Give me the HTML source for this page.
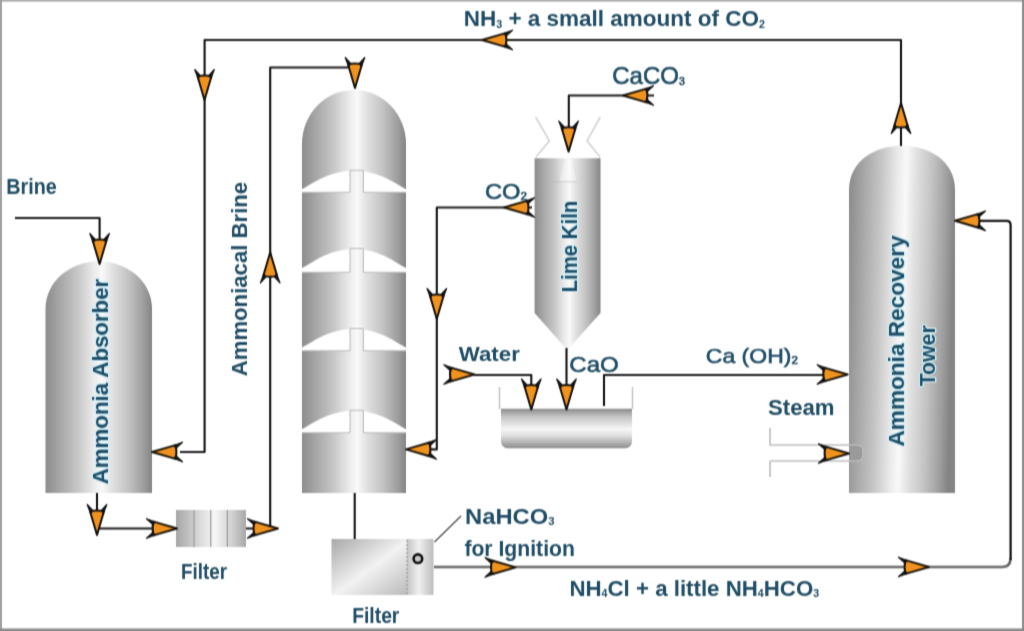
<!DOCTYPE html>
<html><head><meta charset="utf-8"><style>
html,body{margin:0;padding:0;background:#fff;}
body{width:1024px;height:631px;overflow:hidden;}
svg{display:block;}
text{font-family:"Liberation Sans",sans-serif;font-weight:bold;fill:#1f4c64;}
text.halo{stroke:#d2eef6;stroke-width:2.6px;paint-order:stroke;stroke-linejoin:round;fill:#1d4d66;}
</style></head><body>
<svg width="1024" height="631" viewBox="0 0 1024 631">
<defs>
<filter id="soft" color-interpolation-filters="sRGB" x="0" y="0" width="1024" height="631" filterUnits="userSpaceOnUse"><feConvolveMatrix order="3" kernelMatrix="0.025 0.2 0.025 0.05 0.4 0.05 0.025 0.2 0.025" divisor="1" edgeMode="duplicate"/></filter>
<linearGradient id="cyl" x1="0" y1="0" x2="1" y2="0">
<stop offset="0" stop-color="#8c8c8c"/>
<stop offset="0.12" stop-color="#a4a4a4"/>
<stop offset="0.3" stop-color="#c6c6c6"/>
<stop offset="0.45" stop-color="#eaeaea"/>
<stop offset="0.53" stop-color="#f9f9f9"/>
<stop offset="0.62" stop-color="#e2e2e2"/>
<stop offset="0.78" stop-color="#c2c2c2"/>
<stop offset="0.92" stop-color="#9e9e9e"/>
<stop offset="1" stop-color="#848484"/>
</linearGradient>
<linearGradient id="cylT" gradientUnits="userSpaceOnUse" x1="302" y1="0" x2="406" y2="0">
<stop offset="0" stop-color="#8c8c8c"/>
<stop offset="0.12" stop-color="#a4a4a4"/>
<stop offset="0.3" stop-color="#c6c6c6"/>
<stop offset="0.45" stop-color="#eaeaea"/>
<stop offset="0.53" stop-color="#f9f9f9"/>
<stop offset="0.62" stop-color="#e2e2e2"/>
<stop offset="0.78" stop-color="#c2c2c2"/>
<stop offset="0.92" stop-color="#9e9e9e"/>
<stop offset="1" stop-color="#848484"/>
</linearGradient>
<linearGradient id="cylR" gradientUnits="userSpaceOnUse" x1="846" y1="0" x2="952" y2="0" gradientTransform="rotate(1.5 902 320)">
<stop offset="0" stop-color="#8c8c8c"/>
<stop offset="0.12" stop-color="#a4a4a4"/>
<stop offset="0.3" stop-color="#c6c6c6"/>
<stop offset="0.45" stop-color="#eaeaea"/>
<stop offset="0.53" stop-color="#f9f9f9"/>
<stop offset="0.62" stop-color="#e2e2e2"/>
<stop offset="0.78" stop-color="#c2c2c2"/>
<stop offset="0.92" stop-color="#9e9e9e"/>
<stop offset="1" stop-color="#848484"/>
</linearGradient>
<linearGradient id="tank" x1="0" y1="0" x2="0" y2="1">
<stop offset="0" stop-color="#8a8a8a"/>
<stop offset="0.2" stop-color="#c4c4c4"/>
<stop offset="0.52" stop-color="#f6f6f6"/>
<stop offset="0.68" stop-color="#e0e0e0"/>
<stop offset="1" stop-color="#8c8c8c"/>
</linearGradient>
<linearGradient id="fseg" x1="0" y1="0" x2="1" y2="0">
<stop offset="0" stop-color="#a8a8a8"/>
<stop offset="0.5" stop-color="#f0f0f0"/>
<stop offset="1" stop-color="#b0b0b0"/>
</linearGradient>
<linearGradient id="f1" x1="0" y1="0" x2="1" y2="0">
<stop offset="0" stop-color="#a6a6a6"/>
<stop offset="0.3" stop-color="#d4d4d4"/>
<stop offset="0.55" stop-color="#f6f6f6"/>
<stop offset="0.8" stop-color="#d0d0d0"/>
<stop offset="1" stop-color="#a8a8a8"/>
</linearGradient>
<linearGradient id="fseg2" x1="0" y1="0" x2="1" y2="0">
<stop offset="0" stop-color="#c4c4c4"/>
<stop offset="0.45" stop-color="#f0f0f0"/>
<stop offset="1" stop-color="#bcbcbc"/>
</linearGradient>
<linearGradient id="f2a" x1="0" y1="0" x2="1" y2="1">
<stop offset="0" stop-color="#a8a8a8"/>
<stop offset="0.52" stop-color="#f2f2f2"/>
<stop offset="1" stop-color="#bababa"/>
</linearGradient>
<g id="arr"><path d="M0,0 L-23.5,-6.9 Q-25.4,0 -23.5,6.9 Z" fill="#f0921e" stroke="#16110a" stroke-width="2" stroke-linejoin="round"/><path d="M-21.2,-6.3 L-30.5,-9.8 L-24.7,-4.4 Z M-21.2,6.3 L-30.5,9.8 L-24.7,4.4 Z" fill="#121212" stroke="#121212" stroke-width="1.2" stroke-linejoin="round"/></g>
</defs>
<g filter="url(#soft)">
<rect x="0" y="0" width="1024" height="631" fill="#fff"/>

<!-- ===== Equipment ===== -->
<!-- Ammonia absorber -->
<path d="M45.5,493 V308.5 A53.25,47.2 0 0 1 152,308.5 V493 Z" fill="url(#cyl)"/>
<!-- Carbonating tower -->
<path d="M302,493 V144 A52,54 0 0 1 406,144 V493 Z" fill="url(#cylT)"/>
<g id="junctions">
<path d="M301.5,192.3 V189.4 C313,183.9 328,170.8 354,170.8 C380,170.8 395,183.9 406.5,189.4 V192.3 Z" fill="#fff"/>
<rect x="350" y="170.3" width="13.4" height="22.0" fill="url(#cylT)"/>
<path d="M302,192.3 H350 V170.3 H363.4 V192.3 H406" fill="none" stroke="#b8b8b8" stroke-width="1"/>
<path d="M301.5,272.3 V268.3 C313,262.8 328,249.0 354,249.0 C380,249.0 395,262.8 406.5,268.3 V272.3 Z" fill="#fff"/>
<rect x="350" y="248.5" width="13.4" height="23.8" fill="url(#cylT)"/>
<path d="M302,272.3 H350 V248.5 H363.4 V272.3 H406" fill="none" stroke="#b8b8b8" stroke-width="1"/>
<path d="M301.5,350.8 V347.7 C313,342.2 328,329.0 354,329.0 C380,329.0 395,342.2 406.5,347.7 V350.8 Z" fill="#fff"/>
<rect x="350" y="328.5" width="13.4" height="22.3" fill="url(#cylT)"/>
<path d="M302,350.8 H350 V328.5 H363.4 V350.8 H406" fill="none" stroke="#b8b8b8" stroke-width="1"/>
<path d="M301.5,432.8 V429.4 C313,423.9 328,410.8 354,410.8 C380,410.8 395,423.9 406.5,429.4 V432.8 Z" fill="#fff"/>
<rect x="350" y="410.3" width="13.4" height="22.5" fill="url(#cylT)"/>
<path d="M302,432.8 H350 V410.3 H363.4 V432.8 H406" fill="none" stroke="#b8b8b8" stroke-width="1"/>
</g>
<!-- Lime kiln -->
<path d="M535.6,117 L549.4,140.8 L536,157 M600.3,117 L587,140.8 L600,157" fill="none" stroke="#d6d6d6" stroke-width="1.8"/>
<path d="M534.6,158.3 H600.5 V313 L567.3,350 L534.6,313 Z" fill="url(#cyl)"/>
<path d="M566,158.3 H570 L577,182 H559 Z" fill="#fff" fill-opacity="0.3"/>
<path d="M552,181.7 H577" stroke="#b0b0b0" stroke-opacity="0.6" stroke-width="1"/>
<!-- Recovery tower -->
<path d="M849,493 V190 C849,131 955,131 955,190 V493 Z" fill="url(#cylR)"/>
<!-- steam pipe -->
<path d="M849,445 H857 Q863,445 863,451 V455 Q863,461 857,461 H849 Z" fill="#9a9a9a"/>
<path d="M770,428 V445 H857 Q863,445 863,451 V455 Q863,461 857,461 H770 M770,461 V477" fill="none" stroke="#bcbcbc" stroke-width="1.6"/>
<!-- slaker tank -->
<path d="M501,408.7 H632 V441 Q632,448.2 625,448.2 H508 Q501,448.2 501,441 Z" fill="url(#tank)"/>
<path d="M499.5,387 V409 M632.5,387 V409" stroke="#c4c4c4" stroke-width="1.5" fill="none"/>
<!-- filter 1 -->
<rect x="176" y="510" width="70" height="37" fill="url(#f1)"/>
<path d="M194,510 V547 M210.7,510 V547 M227.4,510 V547" stroke="#9a9a9a" stroke-width="1.2"/>
<!-- filter 2 -->
<rect x="331.5" y="539" width="76" height="56" fill="url(#f2a)"/>
<rect x="407" y="539" width="26.5" height="56" fill="url(#fseg2)"/>
<line x1="407" y1="540" x2="407" y2="594" stroke="#999" stroke-width="1.2" stroke-dasharray="2,2"/>
<circle cx="417.9" cy="558.7" r="4.3" fill="#c8c8c8" stroke="#111" stroke-width="2.6"/>
<line x1="434.5" y1="542" x2="461" y2="516" stroke="#444" stroke-width="1.2"/>

<!-- ===== Lines ===== -->
<g fill="none" stroke="#141414" stroke-width="2.1" stroke-linejoin="round">
<path d="M901,146 V40 H204.6 V452 H180"/>
<path d="M246,528.5 H276 M270.2,528.5 V67.5 H355 V86"/>
<path d="M15,218 H99.6 V262"/>
<path d="M97,493 V528.5 H175"/>
<path d="M654,95.5 H568.8 V150"/>
<path d="M532,207.5 H436.8 V449.4 H408"/>
<path d="M474,375 H531.3 V408"/>
<path d="M566.5,348 V408"/>
<path d="M604,406 V375 H846"/>
<path d="M354.7,493 V539"/>
</g>
<path d="M434,567 H1002 Q1010.6,567 1010.6,558" fill="none" stroke="#666" stroke-width="2.6"/>
<path d="M1010.6,560 V225 Q1010.6,220.8 1006.5,220.8 H957" fill="none" stroke="#111" stroke-width="2.2"/>

<!-- ===== Arrows ===== -->
<use href="#arr" transform="translate(482,40) rotate(180)"/>
<use href="#arr" transform="translate(204.5,100) rotate(90)"/>
<use href="#arr" transform="translate(901,103) rotate(-90)"/>
<use href="#arr" transform="translate(152,452) rotate(180)"/>
<use href="#arr" transform="translate(355,88) rotate(90)"/>
<use href="#arr" transform="translate(270.2,252.4) rotate(-90)"/>
<use href="#arr" transform="translate(99.6,264) rotate(90)"/>
<use href="#arr" transform="translate(97,535) rotate(90)"/>
<use href="#arr" transform="translate(177,528.5)"/>
<use href="#arr" transform="translate(278,528.5)"/>
<use href="#arr" transform="translate(623,95.5) rotate(180)"/>
<use href="#arr" transform="translate(568.6,151.6) rotate(90)"/>
<use href="#arr" transform="translate(504,207.5) rotate(180)"/>
<use href="#arr" transform="translate(436.8,319) rotate(90)"/>
<use href="#arr" transform="translate(406,449.4) rotate(180)"/>
<use href="#arr" transform="translate(474.4,374.5)"/>
<use href="#arr" transform="translate(531.3,409.5) rotate(90)"/>
<use href="#arr" transform="translate(566.5,409.5) rotate(90)"/>
<use href="#arr" transform="translate(847.7,374.5)"/>
<use href="#arr" transform="translate(849,453.5)"/>
<use href="#arr" transform="translate(515.5,567.4)"/>
<use href="#arr" transform="translate(929,567)"/>
<use href="#arr" transform="translate(955,220.8) rotate(180)"/>

<!-- ===== Text ===== -->
<g id="labels">
<text x="463.7" y="26.3" font-size="22" textLength="301.2" lengthAdjust="spacingAndGlyphs">NH<tspan font-size="10.5" dy="1.3">3</tspan><tspan dy="-1.3"> + a small amount of CO</tspan><tspan font-size="10.5" dy="1.3">2</tspan></text>
<text x="612.3" y="83.8" font-size="24" style="font-weight:normal;stroke:#1f4c64;stroke-width:0.6px" textLength="72.5" lengthAdjust="spacingAndGlyphs">CaCO<tspan font-size="10.5" dy="1.3">3</tspan></text>
<text x="6.2" y="194.2" font-size="22" textLength="50.5" lengthAdjust="spacingAndGlyphs">Brine</text>
<text x="485" y="198.5" font-size="21.5" style="font-weight:normal;stroke:#1f4c64;stroke-width:0.6px" textLength="42" lengthAdjust="spacingAndGlyphs">CO<tspan font-size="10.5" dy="1.3">2</tspan></text>
<text transform="translate(246.5,376.3) rotate(-90)" font-size="22" textLength="194.5" lengthAdjust="spacingAndGlyphs">Ammoniacal Brine</text>
<text transform="translate(576.6,292.3) rotate(-90)" class="halo" font-size="22" textLength="91.5" lengthAdjust="spacingAndGlyphs">Lime Kiln</text>
<text transform="translate(108,484.3) rotate(-90)" class="halo" font-size="22" textLength="205.5" lengthAdjust="spacingAndGlyphs">Ammonia Absorber</text>
<text x="458.8" y="360.5" font-size="20" textLength="61" lengthAdjust="spacingAndGlyphs">Water</text>
<text x="569.3" y="371.5" font-size="22" style="font-weight:normal;stroke:#1f4c64;stroke-width:0.6px" textLength="49.5" lengthAdjust="spacingAndGlyphs">CaO</text>
<text x="705.8" y="363" font-size="21" style="font-weight:normal;stroke:#1f4c64;stroke-width:0.6px" textLength="92" lengthAdjust="spacingAndGlyphs">Ca (OH)<tspan font-size="10.5" dy="1.3">2</tspan></text>
<text x="768" y="415" font-size="22" textLength="66.5" lengthAdjust="spacingAndGlyphs">Steam</text>
<text transform="translate(904,446.5) rotate(-90)" class="halo" font-size="22" textLength="211" lengthAdjust="spacingAndGlyphs">Ammonia Recovery</text>
<text transform="translate(935,386.3) rotate(-90)" class="halo" font-size="22" textLength="61" lengthAdjust="spacingAndGlyphs">Tower</text>
<text x="181" y="579" font-size="22" textLength="46" lengthAdjust="spacingAndGlyphs">Filter</text>
<text x="465" y="524" font-size="22" textLength="89.5" lengthAdjust="spacingAndGlyphs">NaHCO<tspan font-size="10.5" dy="1.3">3</tspan></text>
<text x="464.4" y="555.6" font-size="22" textLength="110.5" lengthAdjust="spacingAndGlyphs">for Ignition</text>
<text x="352.2" y="622.6" font-size="22" textLength="47.2" lengthAdjust="spacingAndGlyphs">Filter</text>
<text x="569.4" y="596" font-size="22" textLength="249.8" lengthAdjust="spacingAndGlyphs">NH<tspan font-size="10.5" dy="1.3">4</tspan><tspan dy="-1.3">Cl + a little NH</tspan><tspan font-size="10.5" dy="1.3">4</tspan><tspan dy="-1.3">HCO</tspan><tspan font-size="10.5" dy="1.3">3</tspan></text>
</g>

<!-- border -->
<rect x="0" y="0" width="1024" height="1.6" fill="#a8a8a8"/>
<rect x="0" y="0" width="2" height="631" fill="#a0a0a0"/>
<rect x="1022" y="0" width="2" height="631" fill="#8c8c8c"/>
<rect x="0" y="628.5" width="1024" height="2.5" fill="#888"/>
</g>
</svg>
</body></html>
